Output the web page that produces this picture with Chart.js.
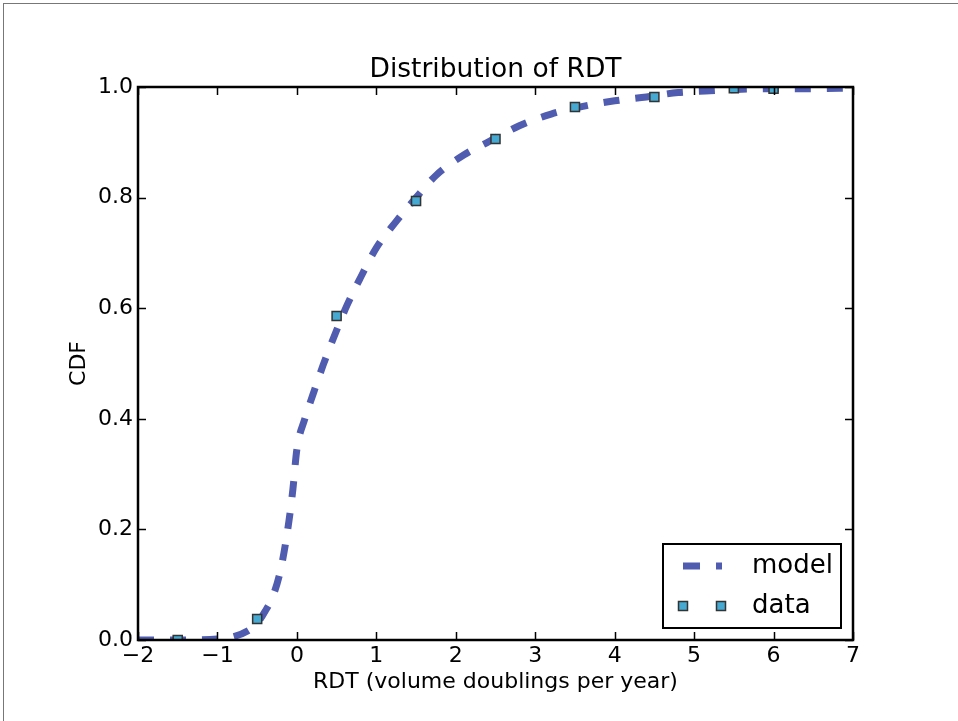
<!DOCTYPE html>
<html>
<head>
<meta charset="utf-8">
<script src="https://cdn.jsdelivr.net/npm/chart.js@4"></script>
<style>
  html, body { margin: 0; padding: 0; background: #fff; }
  #wrap { position: relative; width: 958px; height: 721px; }
  #frame { position: absolute; left: 3px; top: 3px; right: 0; bottom: 0; border-top: 1px solid #777; border-left: 1px solid #777; pointer-events: none; }
</style>
</head>
<body>
<div id="wrap">
  <canvas id="cdfChart" width="958" height="721"></canvas>
  <div id="frame"></div>
</div>
<script>
    // model CDF curve
    var modelX = [-2, -1.5, -1.0, -0.8, -0.6, -0.5, -0.4, -0.3, -0.2, -0.1, -0.05, 0, 0.1, 0.2, 0.33, 0.48, 0.63, 0.8, 1.0, 1.25, 1.5, 1.75, 2.1, 2.4, 2.8, 3.2, 3.6, 4.0, 4.4, 4.8, 5.2, 5.6, 6.0, 6.5, 7.0];
    var modelY = [0, 0, 0.002, 0.006, 0.018, 0.03, 0.052, 0.08, 0.13, 0.215, 0.273, 0.345, 0.40, 0.443, 0.497, 0.553, 0.605, 0.655, 0.709, 0.757, 0.80, 0.84, 0.877, 0.90, 0.93, 0.951, 0.965, 0.975, 0.982, 0.99, 0.993, 0.996, 0.997, 0.997, 0.998];

    // observed data points
    var dataX = [-1.5, -0.5, 0.5, 1.5, 2.5, 3.5, 4.5, 5.5, 6.0];
    var dataY = [0.0, 0.038, 0.586, 0.794, 0.906, 0.964, 0.982, 0.998, 0.997];

    var xTicks = [-2, -1, 0, 1, 2, 3, 4, 5, 6, 7];
    var yTicks = [0.0, 0.2, 0.4, 0.6, 0.8, 1.0];

    var lineColor = '#505cb0';
    var markerFill = '#45a9d2';
    var markerEdge = '#333333';
    var fontFamily = '"DejaVu Sans", sans-serif';

    function pairs(xs, ys) {
        return xs.map(function (x, i) { return { x: x, y: ys[i] }; });
    }

    // axes box, inward ticks on all four sides, legend box inside the axes
    var axesPlugin = {
        id: 'axesDecor',
        afterDraw: function (chart) {
            var ctx = chart.ctx;
            var a = chart.chartArea;
            var xs = chart.scales.x, ys = chart.scales.y;
            ctx.save();
            ctx.strokeStyle = '#000';
            ctx.lineWidth = 1.5;
            ctx.beginPath();
            xTicks.forEach(function (v) {
                var px = Math.round(xs.getPixelForValue(v)) + 0.5;
                ctx.moveTo(px, a.bottom); ctx.lineTo(px, a.bottom - 8);
                ctx.moveTo(px, a.top); ctx.lineTo(px, a.top + 8);
            });
            yTicks.forEach(function (v) {
                var py = Math.round(ys.getPixelForValue(v)) + 0.5;
                ctx.moveTo(a.left, py); ctx.lineTo(a.left + 8, py);
                ctx.moveTo(a.right, py); ctx.lineTo(a.right - 8, py);
            });
            ctx.stroke();
            ctx.lineWidth = 2.5;
            ctx.strokeRect(a.left, a.top, a.right - a.left, a.bottom - a.top);

            // legend
            var lx = a.right - 190, ly = a.bottom - 96, lw = 178, lh = 84;
            ctx.fillStyle = '#fff';
            ctx.fillRect(lx, ly, lw, lh);
            ctx.lineWidth = 2;
            ctx.strokeStyle = '#000';
            ctx.strokeRect(lx, ly, lw, lh);

            var ds0 = chart.data.datasets[0], ds1 = chart.data.datasets[1];
            var rowY1 = ly + 22, rowY2 = ly + 62;
            ctx.strokeStyle = ds0.borderColor;
            ctx.lineWidth = ds0.borderWidth;
            ctx.setLineDash([17, 16]);
            ctx.beginPath();
            ctx.moveTo(lx + 20, rowY1); ctx.lineTo(lx + 59, rowY1);
            ctx.stroke();
            ctx.setLineDash([]);

            ctx.fillStyle = ds1.backgroundColor;
            ctx.strokeStyle = ds1.borderColor;
            ctx.lineWidth = 1.5;
            [lx + 20, lx + 58].forEach(function (cx) {
                ctx.fillRect(cx - 4.5, rowY2 - 4.5, 9, 9);
                ctx.strokeRect(cx - 4.5, rowY2 - 4.5, 9, 9);
            });

            ctx.fillStyle = '#000';
            ctx.font = '26px ' + fontFamily;
            ctx.textBaseline = 'middle';
            ctx.textAlign = 'left';
            ctx.fillText(ds0.label, lx + 89, rowY1);
            ctx.fillText(ds1.label, lx + 89, rowY2);
            ctx.restore();
        }
    };

    var ctx = document.getElementById('cdfChart').getContext('2d');
    var cdfChart = new Chart(ctx, {
        type: 'scatter',
        data: {
            datasets: [{
                type: 'line',
                label: 'model',
                data: pairs(modelX, modelY),
                borderColor: lineColor,
                borderWidth: 7,
                borderDash: [16, 16],
                borderCapStyle: 'butt',
                cubicInterpolationMode: 'monotone',
                pointRadius: 0,
                fill: false,
                clip: 0,
                order: 2
            }, {
                label: 'data',
                data: pairs(dataX, dataY),
                pointStyle: 'rect',
                pointRadius: 6.4,
                backgroundColor: markerFill,
                borderColor: markerEdge,
                borderWidth: 1.5,
                clip: 0,
                order: 1
            }]
        },
        plugins: [axesPlugin],
        options: {
            responsive: false,
            animation: false,
            events: [],
            layout: { padding: { left: 66, right: 105, top: 53.8, bottom: 26 } },
            plugins: {
                legend: { display: false },
                tooltip: { enabled: false },
                title: {
                    display: true,
                    text: 'Distribution of RDT',
                    fullSize: false,
                    color: '#000',
                    font: { family: fontFamily, size: 26.5, weight: 'normal' },
                    padding: { top: 0, bottom: 1.4 }
                }
            },
            scales: {
                x: {
                    type: 'linear',
                    min: -2, max: 7,
                    afterFit: function (s) { s.height = 55; },
                    afterBuildTicks: function (s) { s.ticks = xTicks.map(function (v) { return { value: v }; }); },
                    grid: { display: false, drawTicks: false },
                    border: { display: false },
                    ticks: {
                        padding: 3,
                        color: '#000',
                        font: { family: fontFamily, size: 22 },
                        callback: function (v) { return String(v).replace('-', '\u2212'); }
                    },
                    title: {
                        display: true,
                        text: 'RDT (volume doublings per year)',
                        color: '#000',
                        font: { family: fontFamily, size: 22 },
                        padding: 0
                    }
                },
                y: {
                    min: 0, max: 1,
                    afterFit: function (s) { s.width = 72; },
                    afterBuildTicks: function (s) { s.ticks = yTicks.map(function (v) { return { value: v }; }); },
                    grid: { display: false, drawTicks: false },
                    border: { display: false },
                    ticks: {
                        padding: 5,
                        color: '#000',
                        font: { family: fontFamily, size: 22 },
                        callback: function (v) { return v.toFixed(1); }
                    },
                    title: {
                        display: true,
                        text: 'CDF',
                        color: '#000',
                        font: { family: fontFamily, size: 22 },
                        padding: 0
                    }
                }
            }
        }
    });
</script>
</body>
</html>
